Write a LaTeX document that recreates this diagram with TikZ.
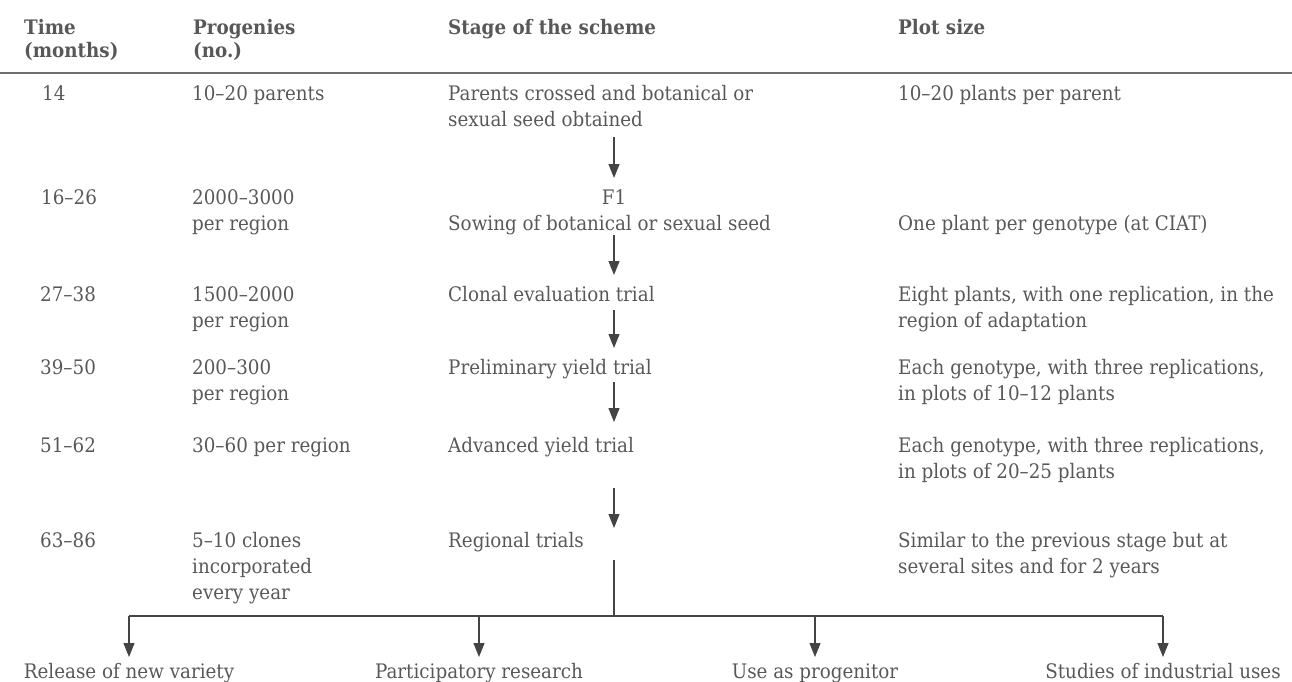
\documentclass[tikz,border=0pt]{standalone}
\usepackage{fontspec}
\setmainfont[FakeStretch=0.915]{DejaVu Serif}
\usetikzlibrary{arrows.meta,calc}
\definecolor{tc}{RGB}{88,88,88}
\definecolor{lc}{RGB}{68,68,68}
\definecolor{rc}{RGB}{110,110,110}
\newcommand\tp{\rule{0pt}{16pt}}
\newcommand\bt{\rule[-6pt]{0pt}{6pt}}
\begin{document}
\begin{tikzpicture}[x=1pt,y=-1pt,
  txt/.style={anchor=north west,inner sep=0pt,align=left,text=tc,font=\fontsize{20}{26}\selectfont},
  hdr/.style={txt,font=\bfseries\fontsize{20}{23}\selectfont},
  ctr/.style={txt,anchor=north,align=center},
  conn/.style={draw=lc,line width=1.2pt},
  arr/.style={conn,-{Triangle[length=14pt,width=11pt]}},
  rulel/.style={draw=rc,line width=1.5pt}]
\useasboundingbox (0,0) rectangle (1292,682);
% header
\node[hdr] (h1) at (24,18) {\tp Time\\(months)};
\node[hdr] (h2) at (193,18) {\tp Progenies\\(no.)};
\node[hdr] (h3) at (448,18) {\tp Stage of the scheme};
\node[hdr] (h4) at (898,18) {\tp Plot size};
\coordinate (rl) at (0,73);
\coordinate (rr) at (1292,73);
\draw[rulel] (rl) -- (rr);
% time column
\node[txt] (t1) at (42,84) {\tp 14};
\node[txt] (t2) at (41,188) {\tp 16--26};
\node[txt] (t3) at (40,285) {\tp 27--38};
\node[txt] (t4) at (40,358) {\tp 39--50};
\node[txt] (t5) at (40,436) {\tp 51--62};
\node[txt] (t6) at (40,531) {\tp 63--86};
% progenies column
\node[txt] (p1) at (192,84) {\tp 10--20 parents};
\node[txt] (p2) at (192,188) {\tp 2000--3000\\per region};
\node[txt] (p3) at (192,285) {\tp 1500--2000\\per region};
\node[txt] (p4) at (192,358) {\tp 200--300\\per region};
\node[txt] (p5) at (192,436) {\tp 30--60 per region};
\node[txt] (p6) at (192,531) {\tp 5--10 clones\\incorporated\\every year};
% stage column
\coordinate (hub) at (614,616);
\node[txt] (s1) at (448,84) {\tp Parents crossed and botanical or\\sexual seed obtained\bt};
\node[ctr] (f1) at (614,188) {\tp F1\bt};
\node[txt] (s2) at (448,214) {\tp Sowing of botanical or sexual seed\bt};
\node[txt] (s3) at (448,285) {\tp Clonal evaluation trial\bt};
\node[txt] (s4) at (448,358) {\tp Preliminary yield trial\bt};
\node[txt] (s5) at (448,436) {\tp Advanced yield trial\bt};
\node[txt] (s6) at (448,531) {\tp Regional trials\bt};
% plot size column
\node[txt] (z1) at (898,84) {\tp 10--20 plants per parent};
\node[txt] (z2) at (898,214) {\tp One plant per genotype (at CIAT)};
\node[txt] (z3) at (898,285) {\tp Eight plants, with one replication, in the\\region of adaptation};
\node[txt] (z4) at (898,358) {\tp Each genotype, with three replications,\\in plots of 10--12 plants};
\node[txt] (z5) at (898,436) {\tp Each genotype, with three replications,\\in plots of 20--25 plants};
\node[txt] (z6) at (898,531) {\tp Similar to the previous stage but at\\several sites and for 2 years};
% outcomes
\node[ctr] (b1) at (129,662) {\tp Release of new variety};
\node[ctr] (b2) at (479,662) {\tp Participatory research};
\node[ctr] (b3) at (815,662) {\tp Use as progenitor};
\node[ctr] (b4) at (1163,662) {\tp Studies of industrial uses};
% arrows in the scheme
\draw[arr] ([yshift=-5pt]s1.south -| hub) -- ([yshift=10pt]f1.north);
\draw[arr] ([yshift=1pt]s2.south -| hub) -- ([yshift=10pt]s3.north -| hub);
\draw[arr] ([yshift=-3pt]s3.south -| hub) -- ([yshift=10pt]s4.north -| hub);
\draw[arr] ([yshift=-2pt]s4.south -| hub) -- ([yshift=14pt]s5.north -| hub);
\draw[arr] ([yshift=-30pt]s5.south -| hub) -- ([yshift=3pt]s6.north -| hub);
\draw[conn] ([yshift=-7pt]s6.south -| hub) -- (hub);
\draw[conn] (b1.north |- hub) -- (b4.north |- hub);
\draw[arr] (b1.north |- hub) -- ([yshift=5pt]b1.north);
\draw[arr] (b2.north |- hub) -- ([yshift=5pt]b2.north);
\draw[arr] (b3.north |- hub) -- ([yshift=5pt]b3.north);
\draw[arr] (b4.north |- hub) -- ([yshift=5pt]b4.north);
\end{tikzpicture}
\end{document}
